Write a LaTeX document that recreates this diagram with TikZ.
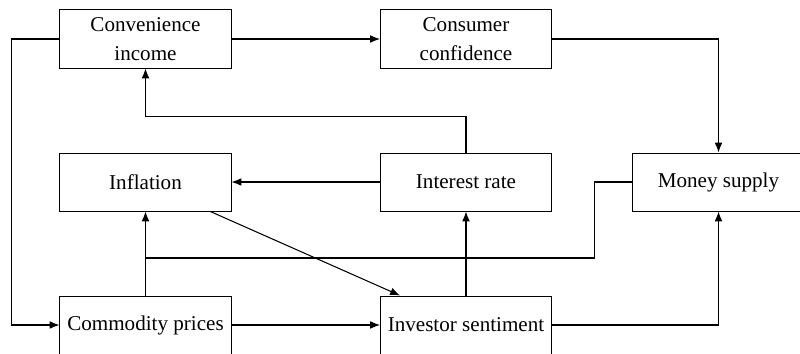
\documentclass[tikz,border=0pt]{standalone}
\usepackage{fontspec}
\setmainfont{Liberation Serif}
\usepackage{tikz}
\usetikzlibrary{arrows.meta}
\tikzset{>={Latex[length=7pt,width=5.5pt]}}
\tikzset{factor/.style={draw, line width=0.7pt, minimum width=4.275cm, minimum height=1.45cm,
  align=center, inner sep=0pt, font=\fontsize{15}{20.5}\selectfont}}

\begin{document}
\begin{tikzpicture}[x=0.025cm, y=-0.025cm, line width=0.75pt]
            \useasboundingbox (0,0) rectangle (800,354);
            \node[factor] (conv) at (145.5,39) {Convenience\\income};
            \node[factor] (cons) at (466,39) {Consumer\\confidence};
            \node[factor] (infl) at (145.5,182) {Inflation};
            \node[factor] (rate) at (466,182) {Interest rate};
            \node[factor] (money) at (718.5,182) {Money supply};
            \node[factor] (comm) at (145.5,325) {Commodity prices};
            \node[factor] (inv) at (466,325) {Investor sentiment};
            \coordinate (join) at (145.5,258);
            \draw[->] (conv.west) -- ++(-48,0) |- (comm.west);
            \draw[->] (conv) -- (cons);
            \draw[->] (cons.east) -| (money.north);
            \draw[->] (rate.north) -- ++(0,-36) -| (conv.south);
            \draw[->] (rate) -- (infl);
            \draw[->] ([xshift=-0.53cm]infl.south east) -- ([xshift=0.5cm]inv.north west);
            \draw[->] (comm) -- (infl);
            \draw (money.west) -- ++(-38,0) |- (join);
            \draw[->] (inv) -- (rate);
            \draw[->] (inv.east) -| (money.south);
            \draw[->] (comm) -- (inv);
        \end{tikzpicture}
\end{document}
